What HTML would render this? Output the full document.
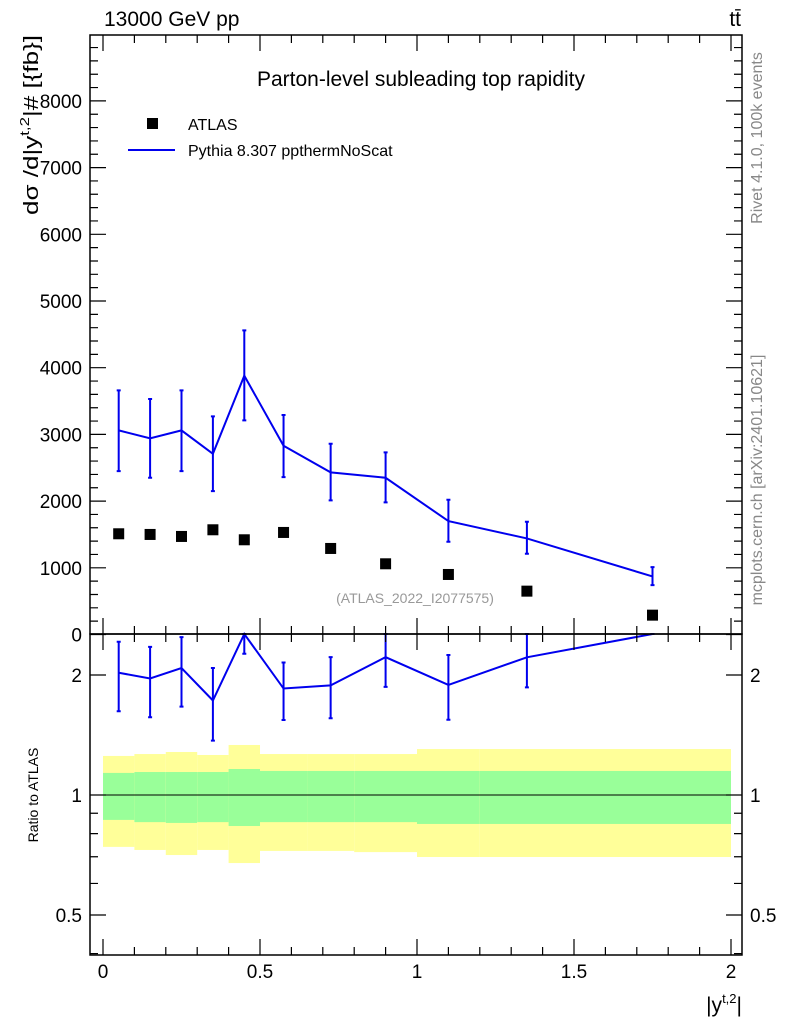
<!DOCTYPE html>
<html><head><meta charset="utf-8"><style>
body{margin:0;background:#fff;width:786px;height:1024px;overflow:hidden}
svg text{font-family:"Liberation Sans",sans-serif}
</style></head><body>
<svg id="s" width="786" height="1024" xmlns="http://www.w3.org/2000/svg">
<g id="bands"></g>
<g id="main"></g>
<rect x="90" y="35" width="652" height="599" fill="none" stroke="#000" stroke-width="1.5"/>
<rect x="90" y="634" width="652" height="321" fill="none" stroke="#000" stroke-width="1.5"/>
<g id="ticks"></g>
<text x="104" y="26" font-size="21">13000 GeV pp</text>
<text x="741" y="26" font-size="21" text-anchor="end">tt̄</text>
<text x="421" y="86" font-size="21" text-anchor="middle">Parton-level subleading top rapidity</text>
<rect x="147" y="118" width="11" height="11" fill="#000"/>
<text x="188" y="130" font-size="16">ATLAS</text>
<line x1="128" y1="150" x2="175" y2="150" stroke="#0000ee" stroke-width="2"/>
<text x="188" y="156" font-size="16">Pythia 8.307 ppthermNoScat</text>
<text x="415" y="603" font-size="14" fill="#999" text-anchor="middle">(ATLAS_2022_I2077575)</text>
<text transform="translate(38,215) rotate(-90)" font-size="20" textLength="180" lengthAdjust="spacingAndGlyphs">dσ /d|y<tspan font-size="13" dy="-9">t,2</tspan><tspan dy="9">|# [{fb}]</tspan></text>
<text transform="translate(38,795) rotate(-90)" font-size="14" text-anchor="middle">Ratio to ATLAS</text>
<text x="742" y="1012" font-size="21" text-anchor="end">|y<tspan font-size="13" dy="-9">t,2</tspan><tspan dy="9">|</tspan></text>
<text transform="translate(762,138) rotate(-90)" font-size="16" fill="#888" text-anchor="middle">Rivet 4.1.0,  100k events</text>
<text transform="translate(762,480) rotate(-90)" font-size="16" fill="#888" text-anchor="middle">mcplots.cern.ch [arXiv:2401.10621]</text>
</svg>
<script>
const edges=[0,0.1,0.2,0.3,0.4,0.5,0.65,0.8,1.0,1.2,1.5,2.0];
const atlas=[1510,1500,1470,1570,1420,1530,1290,1060,900,650,290];
const pythia=[3060,2940,3060,2710,3880,2830,2430,2350,1700,1440,870];
const pyHi=[3660,3530,3660,3270,4560,3290,2860,2730,2020,1690,1010];
const pyLo=[2450,2350,2450,2150,3210,2360,2010,1980,1390,1210,740];
const yelHi=[1.253,1.267,1.282,1.26,1.335,1.267,1.267,1.267,1.304,1.304,1.304];
const yelLo=[0.741,0.728,0.707,0.728,0.675,0.724,0.724,0.719,0.699,0.699,0.699];
const grnHi=[1.136,1.142,1.142,1.142,1.162,1.149,1.149,1.149,1.149,1.149,1.149];
const grnLo=[0.866,0.855,0.851,0.855,0.836,0.855,0.855,0.855,0.846,0.846,0.846];
const yTicks=[0,1000,2000,3000,4000,5000,6000,7000,8000];
const xTicks=[0,0.5,1,1.5,2];
const rTicks=[0.5,1,2];
const X=v=>103+v*314, Y=v=>634.5-v*0.0667, R=v=>795-120*Math.log2(v);
const NS="http://www.w3.org/2000/svg";
function mk(p,t,a){const e=document.createElementNS(NS,t);for(const k in a)e.setAttribute(k,a[k]);document.getElementById(p).appendChild(e);return e;}
const cx=i=>(edges[i]+edges[i+1])/2;
const clampR=v=>Math.max(634,Math.min(955,R(v)));
for(let i=0;i<atlas.length;i++){
 let e=mk('bands','rect',{x:X(edges[i]),y:R(yelHi[i]),width:X(edges[i+1])-X(edges[i]),height:R(yelLo[i])-R(yelHi[i]),fill:'#ffff99'});
 
 
 e=mk('bands','rect',{x:X(edges[i]),y:R(grnHi[i]),width:X(edges[i+1])-X(edges[i]),height:R(grnLo[i])-R(grnHi[i]),fill:'#99ff99'});
 
 
}
let ln=mk('bands','line',{x1:X(0),x2:X(2),y1:R(1),y2:R(1),stroke:'#000','stroke-width':1});


let pts=atlas.map((_,i)=>X(cx(i))+','+Y(pythia[i])).join(' ');
let pl=mk('main','polyline',{points:pts,fill:'none',stroke:'#0000ee','stroke-width':2});


let rp=atlas.map((a,i)=>X(cx(i))+','+clampR(pythia[i]/a)).join(' ');
let rl=mk('main','polyline',{points:rp,fill:'none',stroke:'#0000ee','stroke-width':2});


for(let i=0;i<atlas.length;i++){
 const x=X(cx(i));
 let e=mk('main','path',{d:`M${x},${Y(pyHi[i])}V${Y(pyLo[i])}M${x-2},${Y(pyHi[i])}h4M${x-2},${Y(pyLo[i])}h4`,stroke:'#0000ee','stroke-width':2,fill:'none'});
 
 
 const rh=clampR(pyHi[i]/atlas[i]), rlw=clampR(pyLo[i]/atlas[i]);
 e=mk('main','path',{d:`M${x},${rh}V${rlw}M${x-2},${rh}h4M${x-2},${rlw}h4`,stroke:'#0000ee','stroke-width':2,fill:'none'});
 
 
 e=mk('main','rect',{x:x-5.5,y:Y(atlas[i])-5.5,width:11,height:11,fill:'#000'});
 
 
}
let d='';
for(let v=0;v<=2.0001;v+=0.1){const x=X(v),mj=Math.abs(v*2-Math.round(v*2))<1e-6,l=mj?16:8;d+=`M${x},634v-${l}M${x},35v${l}M${x},955v-${l}M${x},634v${l}`;}
for(let v=0;v<=8900;v+=200){const y=Y(v),l=v%1000==0?16:8;d+=`M90,${y}h${l}M742,${y}h-${l}`;}
[0.4,0.5,0.6,0.7,0.8,0.9,1,2].forEach(v=>{const y=R(v),l=rTicks.includes(v)?16:8;d+=`M90,${y}h${l}M742,${y}h-${l}`;});
let tk=mk('ticks','path',{d:d,stroke:'#000','stroke-width':1.2,fill:'none'});


yTicks.forEach(v=>{let t=mk('ticks','text',{x:82,y:Y(v)+7,'font-size':19,'text-anchor':'end'});t.textContent=v;
 
 });
xTicks.forEach(v=>{let t=mk('ticks','text',{x:X(v),y:978,'font-size':19,'text-anchor':'middle'});t.textContent=v;
 
 });
rTicks.forEach(v=>{[[82,'end'],[750,'start']].forEach(([x,a])=>{let t=mk('ticks','text',{x:x,y:R(v)+7,'font-size':19,'text-anchor':a});t.textContent=v;
 
 });});
</script>
</body></html>
